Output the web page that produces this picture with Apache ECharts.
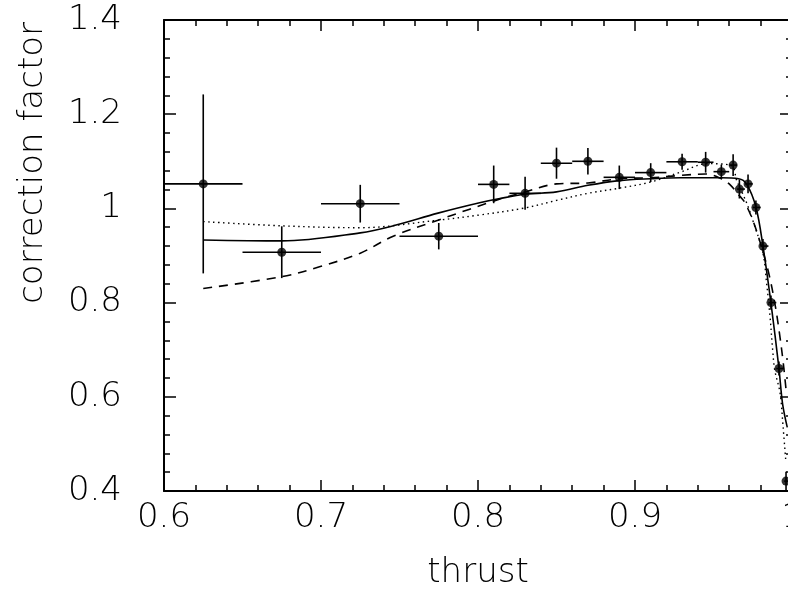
<!DOCTYPE html>
<html>
<head>
<meta charset="utf-8">
<script src="https://cdn.jsdelivr.net/npm/echarts@6/dist/echarts.min.js"></script>
<style>
html,body{margin:0;padding:0;background:#fff;}
#c{width:788px;height:590px;}
</style>
</head>
<body>
<div id="c"></div>
<script>
// ---- data ----
var dataX    = [0.625,0.675,0.725,0.775,0.81,0.83,0.85,0.87,0.89,0.91,0.93,0.945,0.955,0.9625,0.9665,0.972,0.977,0.9815,0.9866,0.9917,0.9962];
var dataY    = [1.052,0.907,1.010,0.941,1.051,1.032,1.096,1.100,1.066,1.076,1.099,1.098,1.078,1.092,1.041,1.052,1.002,0.920,0.800,0.660,0.421];
var dataXLo  = [0.60,0.65,0.70,0.75,0.80,0.82,0.84,0.86,0.88,0.90,0.92,0.94,0.95,0.96,0.965,0.97,0.975,0.98,0.985,0.99,0.995];
var dataXHi  = [0.65,0.70,0.75,0.80,0.82,0.84,0.86,0.88,0.90,0.92,0.94,0.95,0.96,0.965,0.97,0.975,0.98,0.985,0.99,0.995,1.0];
var dataYErr = [0.19,0.055,0.04,0.028,0.04,0.035,0.033,0.028,0.025,0.02,0.017,0.022,0.015,0.023,0.02,0.02,0.015,0.015,0.015,0.015,0.02];

var solidX  = [0.625,0.675,0.725,0.746,0.7745,0.801,0.814,0.830,0.850,0.870,0.890,0.910,0.929,0.955,0.966,0.971,0.977,0.9815,0.9866,0.9917,0.994,0.997];
var solidY  = [0.933,0.931,0.948,0.963,0.990,1.012,1.021,1.030,1.035,1.049,1.059,1.063,1.065,1.065,1.063,1.052,1.003,0.920,0.799,0.660,0.585,0.535];

var dashedX = [0.625,0.675,0.699,0.725,0.746,0.7745,0.814,0.830,0.850,0.870,0.890,0.910,0.929,0.945,0.955,0.960,0.967,0.970,0.975,0.980,0.985,0.989,0.992,0.9945,0.9965];
var dashedY = [0.830,0.855,0.876,0.905,0.941,0.975,1.020,1.035,1.052,1.054,1.063,1.065,1.070,1.073,1.063,1.052,1.025,1.012,0.975,0.925,0.865,0.800,0.735,0.670,0.605];

var dottedX = [0.625,0.675,0.725,0.7745,0.801,0.830,0.850,0.870,0.890,0.910,0.929,0.946,0.9615,0.9647,0.969,0.972,0.975,0.9815,0.9838,0.986,0.9877,0.989,0.9924,0.9943,0.996];
var dottedY = [0.972,0.963,0.959,0.975,0.986,1.001,1.017,1.032,1.043,1.056,1.077,1.095,1.091,1.060,1.028,1.004,0.975,0.905,0.842,0.770,0.699,0.657,0.608,0.537,0.466];

var xTickValues = [0.6,0.7,0.8,0.9,1.0];
var xTickLabels = ['0.6','0.7','0.8','0.9','1'];
var yTickValues = [0.4,0.6,0.8,1.0,1.2,1.4];
var yTickLabels = ['0.4','0.6','0.8','1','1.2','1.4'];
var xTitle = 'thrust';
var yTitle = 'correction factor';

// ---- build ----
function zip(a,b){ return a.map(function(v,i){ return [v,b[i]]; }); }
function labelFor(values, labels){
  return function(v){
    for (var i=0;i<values.length;i++){ if (Math.abs(values[i]-v)<1e-9) return labels[i]; }
    return '';
  };
}
var FONT = 'DejaVu Sans';
var errData = dataX.map(function(x,i){ return [x, dataY[i], dataXLo[i], dataXHi[i], dataY[i]-dataYErr[i], dataY[i]+dataYErr[i]]; });

var chart = echarts.init(document.getElementById('c'), null, {renderer:'canvas'});
var axisCommon = {
  type:'value',
  axisLine:{show:true, lineStyle:{color:'#000', width:2}},
  splitLine:{show:false}
};
chart.setOption({
  backgroundColor:'#fff',
  animation:false,
  grid:{left:164, top:20, width:628, height:471, containLabel:false, outerBoundsMode:'none'},
  xAxis:[
    Object.assign({}, axisCommon, {
      min:0.6, max:1.0, interval:0.1, position:'bottom',
      axisTick:{show:true, inside:true, length:11, lineStyle:{color:'#000', width:1.5}},
      minorTick:{show:true, splitNumber:5, length:6, lineStyle:{color:'#000', width:1.5}},
      axisLabel:{show:true, margin:10, color:'#000', fontFamily:FONT, fontWeight:200, fontSize:34, formatter:labelFor(xTickValues,xTickLabels)},
      name:xTitle, nameLocation:'middle', nameGap:65,
      nameTextStyle:{color:'#000', fontFamily:FONT, fontWeight:200, fontSize:34}
    }),
    Object.assign({}, axisCommon, {
      min:0.6, max:1.0, interval:0.1, position:'top',
      axisTick:{show:true, inside:true, length:11, lineStyle:{color:'#000', width:1.5}},
      minorTick:{show:true, splitNumber:5, length:6, lineStyle:{color:'#000', width:1.5}},
      axisLabel:{show:false}
    })
  ],
  yAxis:[
    Object.assign({}, axisCommon, {
      min:0.4, max:1.4, interval:0.2, position:'left',
      axisTick:{show:true, inside:true, length:12, lineStyle:{color:'#000', width:1.5}},
      minorTick:{show:true, splitNumber:5, length:6, lineStyle:{color:'#000', width:1.5}},
      axisLabel:{show:true, margin:42, color:'#000', fontFamily:FONT, fontWeight:200, fontSize:34, formatter:labelFor(yTickValues,yTickLabels)}
    }),
    Object.assign({}, axisCommon, {
      min:0.4, max:1.4, interval:0.2, position:'right',
      axisTick:{show:true, inside:true, length:12, lineStyle:{color:'#000', width:1.5}},
      minorTick:{show:true, splitNumber:5, length:6, lineStyle:{color:'#000', width:1.5}},
      axisLabel:{show:false}
    })
  ],
  graphic:[{
    type:'text', x:33, y:22, rotation:Math.PI/2,
    style:{text:yTitle, fill:'#000', font:'200 34px "DejaVu Sans"', align:'right', verticalAlign:'middle'}
  }],
  series:[
    {type:'line', data:zip(solidX,solidY), xAxisIndex:0, yAxisIndex:0, showSymbol:false, smooth:0.35,
     lineStyle:{color:'#000', width:1.6, type:'solid'}, z:3},
    {type:'line', data:zip(dashedX,dashedY), xAxisIndex:0, yAxisIndex:0, showSymbol:false, smooth:0.35,
     lineStyle:{color:'#000', width:1.6, type:[9,7]}, z:3},
    {type:'line', data:zip(dottedX,dottedY), xAxisIndex:0, yAxisIndex:0, showSymbol:false, smooth:0.35,
     lineStyle:{color:'#000', width:1.4, type:[1.5,3.5]}, z:3},
    {type:'custom', xAxisIndex:0, yAxisIndex:0, data:errData, z:4,
     renderItem:function(params, api){
       var y = api.value(1);
       var a = api.coord([api.value(2), y]), b = api.coord([api.value(3), y]);
       var c = api.coord([api.value(0), api.value(4)]), d = api.coord([api.value(0), api.value(5)]);
       var st = {stroke:'#000', lineWidth:1.6};
       return {type:'group', children:[
         {type:'line', shape:{x1:a[0],y1:a[1],x2:b[0],y2:b[1]}, style:st},
         {type:'line', shape:{x1:c[0],y1:c[1],x2:d[0],y2:d[1]}, style:st}
       ]};
     }},
    {type:'scatter', xAxisIndex:0, yAxisIndex:0, data:zip(dataX,dataY), symbol:'circle', symbolSize:9,
     itemStyle:{color:'#000'}, z:5}
  ]
});
</script>
</body>
</html>
